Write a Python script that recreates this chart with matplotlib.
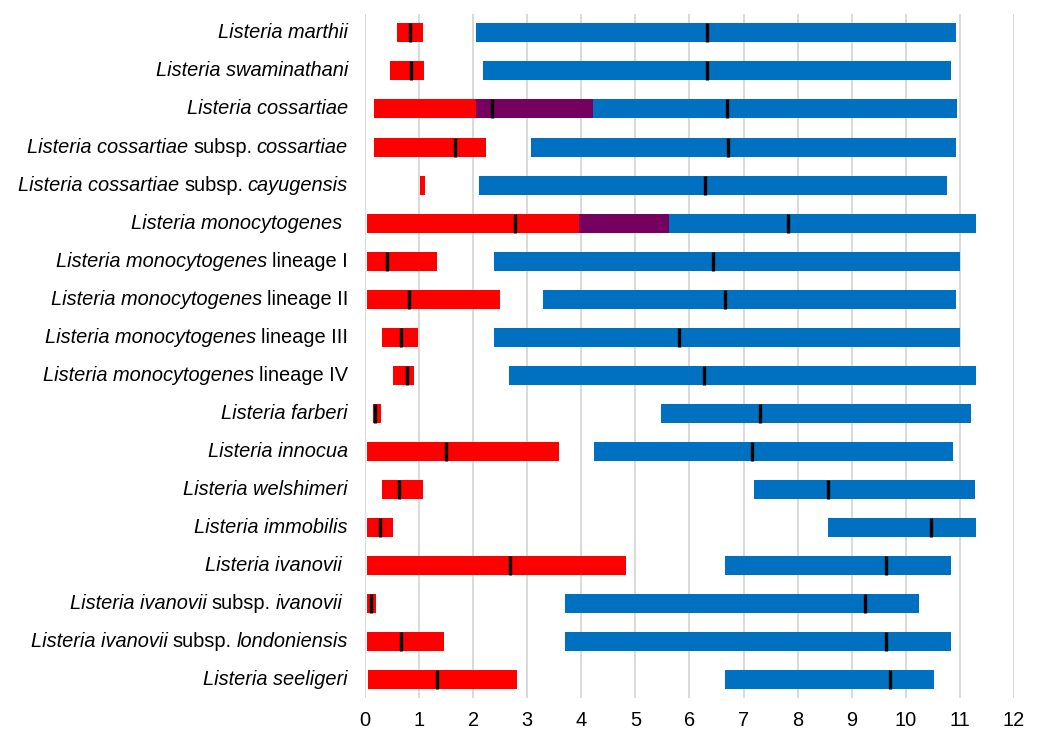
import numpy as np
import matplotlib
matplotlib.use("Agg")
import matplotlib.pyplot as plt
import matplotlib.transforms as mtransforms

# Label pieces: (text, italic?) joined left to right
labels = [
    [("Listeria marthii", True)],
    [("Listeria swaminathani", True)],
    [("Listeria cossartiae", True)],
    [("Listeria cossartiae", True), ("subsp.", False), ("cossartiae", True)],
    [("Listeria cossartiae", True), ("subsp.", False), ("cayugensis", True)],
    [("Listeria monocytogenes", True)],
    [("Listeria monocytogenes", True), ("lineage I", False)],
    [("Listeria monocytogenes", True), ("lineage II", False)],
    [("Listeria monocytogenes", True), ("lineage III", False)],
    [("Listeria monocytogenes", True), ("lineage IV", False)],
    [("Listeria farberi", True)],
    [("Listeria innocua", True)],
    [("Listeria welshimeri", True)],
    [("Listeria immobilis", True)],
    [("Listeria ivanovii", True)],
    [("Listeria ivanovii", True), ("subsp.", False), ("ivanovii", True)],
    [("Listeria ivanovii", True), ("subsp.", False), ("londoniensis", True)],
    [("Listeria seeligeri", True)],
]
# trailing space after some names (points)
label_trail = [0, 0, 0, 0, 0, 4, 0, 0, 0, 0, 0, 0, 0, 0, 4, 4, 0, 0]

red_min = [0.59, 0.46, 0.17, 0.17, 1.02, 0.04, 0.04, 0.04, 0.31, 0.52,
           0.15, 0.04, 0.31, 0.04, 0.04, 0.04, 0.04, 0.06]
red_max = [1.08, 1.10, 4.22, 2.23, 1.11, 5.63, 1.34, 2.50, 0.98, 0.91,
           0.30, 3.58, 1.08, 0.52, 4.82, 0.21, 1.46, 2.81]
red_med = [0.83, 0.85, 2.34, 1.67, np.nan, 2.77, 0.41, 0.81, 0.67, 0.78,
           0.19, 1.50, 0.63, 0.27, 2.68, 0.12, 0.67, 1.33]

blue_min = [2.05, 2.18, 2.05, 3.07, 2.11, 3.95, 2.39, 3.30, 2.39, 2.67,
            5.47, 4.23, 7.19, 8.57, 6.66, 3.69, 3.69, 6.66]
blue_max = [10.93, 10.84, 10.95, 10.93, 10.76, 11.29, 11.00, 10.93, 11.01, 11.29,
            11.20, 10.88, 11.27, 11.29, 10.84, 10.25, 10.84, 10.52]
blue_med = [6.32, 6.32, 6.70, 6.72, 6.29, 7.83, 6.44, 6.66, 5.81, 6.26,
            7.30, 7.15, 8.57, 10.46, 9.64, 9.24, 9.64, 9.71]

x_ticks = list(range(0, 13))

RED = "#FF0000"
BLUE = "#0070C0"
PURPLE = "#76005F"
GRID = "#D9D9D9"
FONT = "Liberation Sans"
FS = 14.4

fig = plt.figure(figsize=(10.38, 7.29), dpi=100)
ax = fig.add_axes([0.3516, 0.0425, 0.6253, 0.9383])

n = len(labels)
y = np.arange(n)
h = 0.5

red_min_a = np.array(red_min)
red_max_a = np.array(red_max)
blue_min_a = np.array(blue_min)
blue_max_a = np.array(blue_max)

ax.barh(y, red_max_a - red_min_a, left=red_min_a, height=h, color=RED, zorder=2)
ax.barh(y, blue_max_a - blue_min_a, left=blue_min_a, height=h, color=BLUE, zorder=2)

# overlap of the two ranges
ov_lo = np.maximum(red_min_a, blue_min_a)
ov_hi = np.minimum(red_max_a, blue_max_a)
mask = ov_hi > ov_lo
ax.barh(y[mask], (ov_hi - ov_lo)[mask], left=ov_lo[mask], height=h,
        color=PURPLE, zorder=3)

# median markers
for meds in (red_med, blue_med):
    meds = np.array(meds)
    ok = ~np.isnan(meds)
    ax.vlines(meds[ok], y[ok] - h / 2, y[ok] + h / 2, colors="black",
              linewidth=2.4, zorder=4)

ax.set_xlim(0, 12)
ax.set_ylim(n - 0.5, -0.5)
ax.set_xticks(x_ticks)
ax.set_xticklabels([str(t) for t in x_ticks], fontsize=FS, family=FONT)
ax.set_yticks([])
ax.tick_params(axis="x", length=0, pad=9, colors="#000000")
ax.grid(axis="x", color=GRID, linewidth=1.4, zorder=0)
ax.set_axisbelow(True)
for s in ax.spines.values():
    s.set_visible(False)

# row labels built right-to-left from italic / upright pieces
trans = mtransforms.blended_transform_factory(ax.transAxes, ax.transData)
for i, pieces in enumerate(labels):
    prev = None
    for text, ital in reversed(pieces):
        style = "italic" if ital else "normal"
        if prev is None:
            prev = ax.annotate(text, xy=(0, i), xycoords=trans,
                               xytext=(-12.3 - label_trail[i], 0),
                               textcoords="offset points",
                               ha="right", va="center", fontsize=FS,
                               family=FONT, style=style, annotation_clip=False)
        else:
            prev = ax.annotate(text, xy=(0, 0), xycoords=prev,
                               xytext=(-3.4, 0), textcoords="offset points",
                               ha="right", va="bottom", fontsize=FS,
                               family=FONT, style=style, annotation_clip=False)

fig.savefig("out.png", dpi=100)
